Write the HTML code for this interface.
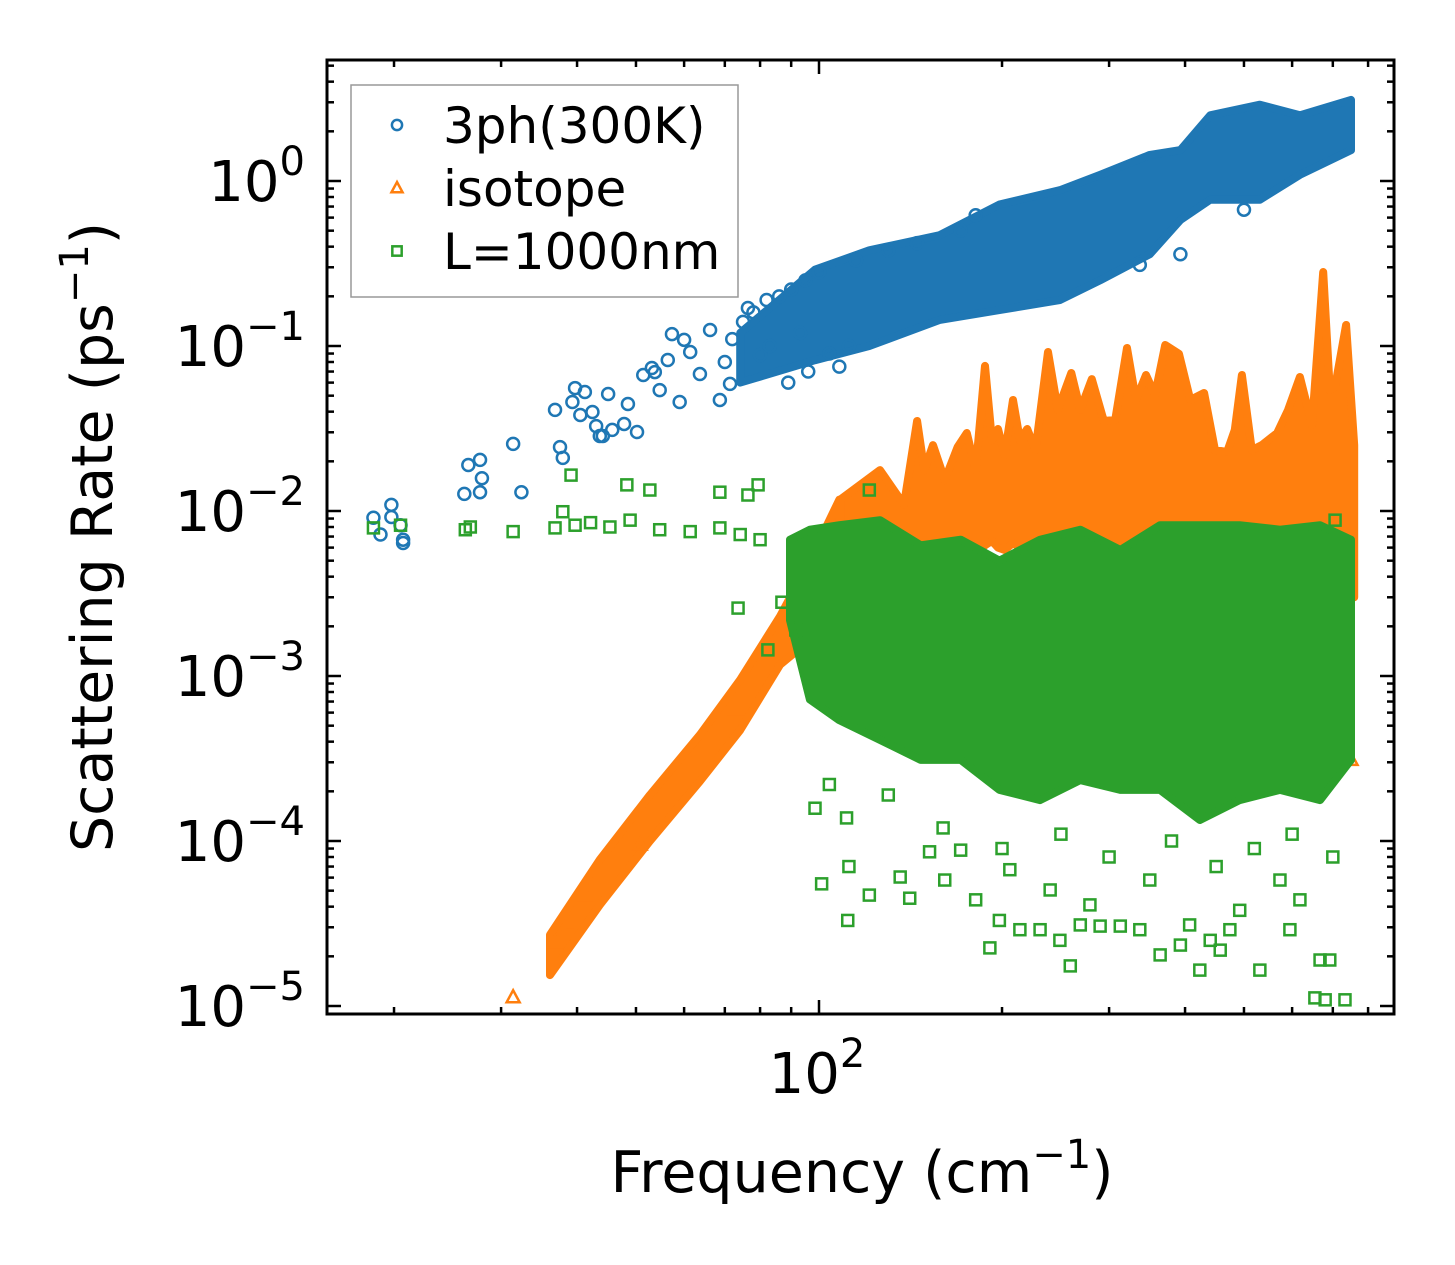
<!DOCTYPE html>
<html><head><meta charset="utf-8"><style>
html,body{margin:0;padding:0;background:#fff;width:1455px;height:1265px;overflow:hidden}
svg{display:block;font-family:"DejaVu Sans","Liberation Sans",sans-serif}
</style></head><body>
<svg id="chart" width="1455" height="1265" viewBox="0 0 1455 1265" xmlns="http://www.w3.org/2000/svg">
<rect width="1455" height="1265" fill="#fff"/>
<g id="marks"></g><g id="axes"></g>
</svg>
<script>
// ---- data ----
const blueFreq=[18.5,19.0,19.8,19.8,20.5,20.7,20.7,26.1,26.5,27.7,27.9,27.7,31.4,32.4,36.8,37.5,37.9,39.3,39.7,40.5,41.2,42.4,43.0,43.6,44.1,45.0,45.7,47.8,48.5,50.2,51.4,53.1,53.7,54.7,56.4,57.3,59.0,60.0,61.4,63.7,66.2,68.7,71.4,76.4,80.0,83.0,93.1,104,112,500,393,337,171,181,89,96,108,70,72,75,78,82,86,90,95,100,115,130,145];
const blueRate=[0.0091,0.0072,0.0109,0.0092,0.0082,0.0067,0.0064,0.0127,0.019,0.0204,0.0158,0.013,0.0255,0.013,0.041,0.0244,0.021,0.0458,0.0556,0.0382,0.0526,0.0398,0.0327,0.0285,0.0285,0.0512,0.031,0.0337,0.0445,0.0301,0.0667,0.0736,0.0695,0.054,0.0822,0.118,0.0458,0.109,0.092,0.0676,0.125,0.0471,0.0589,0.17,0.088,0.1,0.12,0.09,0.1,0.67,0.36,0.31,0.5,0.62,0.06,0.07,0.075,0.08,0.11,0.14,0.16,0.19,0.2,0.22,0.25,0.28,0.33,0.38,0.42];
const blueBandFreq=[74.2,98.5,121,158,198,249,290,350,393,440,531,618,750];
const blueBandLo=[0.06,0.082,0.10,0.144,0.165,0.19,0.25,0.36,0.58,0.77,0.77,1.09,1.54];
const blueBandHi=[0.12,0.29,0.38,0.47,0.72,0.88,1.09,1.44,1.54,2.5,2.9,2.5,3.1];

const orangeFreq=[31.4,36.8,38.9,41.2,43.6,50.8,63.7,72.8,750];
const orangeRate=[1.13e-5,2.44e-5,3.1e-5,4.7e-5,6.6e-5,9.5e-5,3.5e-4,6.3e-4,3.1e-4];
const orangeRampFreq=[36.1,43.6,52.7,63.7,74.2,86.3,96.6,108];
const orangeRampLo=[1.54e-5,4.1e-5,1.0e-4,2.3e-4,4.7e-4,1.17e-3,1.65e-3,1.9e-3];
const orangeRampHi=[2.7e-5,7.7e-5,1.9e-4,4.4e-4,9.5e-4,2.3e-3,5.0e-3,0.0117];
const orangeCloudFreq=[108.3,126,138,145,149,154,161,169,175,181,187.5,192.5,197,202,208.5,214,220,227,238,247,260,269,281,294,307,321,332,345,357,371,391,408,430,448,469,483,496,515,535,567,591,618,647,675,692,706,736,759];
const orangeCloudHi=[0.0117,0.0177,0.0109,0.0351,0.0177,0.0251,0.0154,0.0244,0.0297,0.0177,0.0757,0.0269,0.0314,0.0218,0.0471,0.0269,0.0314,0.0234,0.092,0.041,0.0686,0.041,0.063,0.0351,0.0356,0.0973,0.0471,0.0667,0.0505,0.1014,0.0895,0.0471,0.0519,0.0234,0.0228,0.031,0.0667,0.0234,0.0251,0.0297,0.041,0.0649,0.0332,0.281,0.054,0.0565,0.134,0.0251];
const orangeCloudLo=[1.9e-3,3.5e-3,5.0e-3,6.0e-3,6.5e-3,6.0e-3,6.2e-3,6.8e-3,6.0e-3,5.5e-3,6.2e-3,6.6e-3,6.0e-3,5.8e-3,6.4e-3,6.0e-3,5.6e-3,6.2e-3,6.0e-3,5.5e-3,5.8e-3,6.2e-3,6.0e-3,5.5e-3,5.2e-3,5.8e-3,6.0e-3,5.6e-3,5.4e-3,5.0e-3,5.5e-3,6.0e-3,6.2e-3,5.8e-3,6.0e-3,5.6e-3,6.0e-3,6.2e-3,6.4e-3,6.0e-3,5.8e-3,6.0e-3,6.6e-3,7.0e-3,6.0e-3,5.0e-3,4.0e-3,3.0e-3];

const greenFreq=[98.5,101,111,112,111.5,121,136,141,152,161,171,181,191,198,206,214,231,240,249,259,269,279,290,313,337,350,364,393,407,423,440,457,474,492,531,573,595,618,654,667,680,692,733,82.4,91.6,73.6,86.9,39.1,48.3,52.7,68.7,76.4,79.4,121,706,18.5,20.5,26.2,26.7,31.4,36.8,37.9,39.7,42.1,45.3,48.9,54.7,61.4,68.7,74.2,80.0,104,130,160,200,250,300,380,450,520,600,700];
const greenRate=[1.58e-4,5.5e-5,1.38e-4,7.0e-5,3.3e-5,4.7e-5,6.05e-5,4.5e-5,8.6e-5,5.8e-5,8.8e-5,4.4e-5,2.25e-5,3.3e-5,6.7e-5,2.9e-5,2.9e-5,5.05e-5,2.5e-5,1.75e-5,3.1e-5,4.1e-5,3.05e-5,3.05e-5,2.9e-5,5.8e-5,2.04e-5,2.34e-5,3.1e-5,1.65e-5,2.5e-5,2.18e-5,2.9e-5,3.8e-5,1.65e-5,5.8e-5,2.9e-5,4.4e-5,1.12e-5,1.9e-5,1.09e-5,1.9e-5,1.09e-5,1.44e-3,1.9e-3,2.58e-3,2.8e-3,0.0165,0.0144,0.0134,0.013,0.0125,0.0144,0.0134,0.0088,0.0079,0.0082,0.0077,0.0080,0.0075,0.0079,0.0099,0.0082,0.0085,0.0080,0.0088,0.0077,0.0075,0.0079,0.0072,0.0067,2.2e-4,1.9e-4,1.2e-4,9e-5,1.1e-4,8e-5,1.0e-4,7e-5,9e-5,1.1e-4,8e-5];
const greenBandFreq=[89.6,96.6,108,126,147,171,198,231,269,313,364,423,492,573,667,750];
const greenBandLo=[2.18e-3,7.2e-4,5.4e-4,4.1e-4,3.1e-4,3.1e-4,2.04e-4,1.77e-4,2.34e-4,2.04e-4,2.04e-4,1.34e-4,1.77e-4,2.04e-4,1.77e-4,3.1e-4];
const greenBandHi=[6.7e-3,7.7e-3,8.2e-3,8.8e-3,6.2e-3,6.7e-3,5.0e-3,6.7e-3,7.7e-3,5.8e-3,8.2e-3,8.2e-3,8.2e-3,7.7e-3,8.2e-3,6.7e-3];

const yTickExps=[0,-1,-2,-3,-4,-5];
const yTickLabels=["0","\u22121","\u22122","\u22123","\u22124","\u22125"];
const xMajor=[100];
const xMinor=[20,30,40,50,60,70,80,90,200,300,400,500,600,700,800];

// ---- scales ----
const L=327,R=1394,T=60,B=1014;
const X0=819, XD=608, Y0=181, YD=165;
function sx(f){return X0+XD*(Math.log10(f)-2);}
function sy(r){return Y0-YD*Math.log10(r);}
const NS="http://www.w3.org/2000/svg";
function mk(tag,attrs,parent){const e=document.createElementNS(NS,tag);for(const k in attrs)e.setAttribute(k,attrs[k]);parent.appendChild(e);return e;}
const marks=document.getElementById('marks'), axes=document.getElementById('axes');
const C={b:"#1f77b4",o:"#ff7f0e",g:"#2ca02c"};

function band(fr,lo,hi,col,name,parent){
  let pts=[];
  for(let i=0;i<fr.length;i++)pts.push(sx(fr[i]).toFixed(1)+","+sy(hi[i]).toFixed(1));
  for(let i=fr.length-1;i>=0;i--)pts.push(sx(fr[i]).toFixed(1)+","+sy(lo[i]).toFixed(1));
  const p=mk('polygon',{points:pts.join(" "),fill:col,stroke:col,'stroke-width':8,'stroke-linejoin':'round'},parent);
  
  
}
function marker(type,x,y,col,parent,s){
  s=s||1;let e;
  if(type==='c')e=mk('circle',{cx:x,cy:y,r:6*s,fill:'none',stroke:col,'stroke-width':2.5},parent);
  else if(type==='t')e=mk('polygon',{points:`${x},${y-7*s} ${x-6.5*s},${y+5*s} ${x+6.5*s},${y+5*s}`,fill:'none',stroke:col,'stroke-width':2.5},parent);
  else e=mk('rect',{x:x-5.5*s,y:y-5.5*s,width:11*s,height:11*s,fill:'none',stroke:col,'stroke-width':2.5},parent);
  return e;
}
// blue
const gb=mk('g',{},marks);
band(blueBandFreq,blueBandLo,blueBandHi,C.b,'3ph-dense-cloud',gb);
for(let i=0;i<blueFreq.length;i++){const m=marker('c',sx(blueFreq[i]),sy(blueRate[i]),C.b,gb);

}
// orange
const go=mk('g',{},marks);
band(orangeRampFreq,orangeRampLo,orangeRampHi,C.o,'isotope-low-freq-ramp',go);
band(orangeCloudFreq,orangeCloudLo,orangeCloudHi,C.o,'isotope-dense-cloud',go);
for(let i=0;i<orangeFreq.length;i++){const m=marker('t',sx(orangeFreq[i]),sy(orangeRate[i]),C.o,go);

}
// green
const gg=mk('g',{},marks);
band(greenBandFreq,greenBandLo,greenBandHi,C.g,'boundary-dense-cloud',gg);
for(let i=0;i<greenFreq.length;i++){const m=marker('s',sx(greenFreq[i]),sy(greenRate[i]),C.g,gg);

}

// ---- axes ----
const fr=mk('rect',{x:L,y:T,width:R-L,height:B-T,fill:'none',stroke:'#000','stroke-width':3},axes);

function tick(x1,y1,x2,y2){mk('line',{x1,y1,x2,y2,stroke:'#000','stroke-width':2.5},axes);}
yTickExps.forEach((e,i)=>{
  const y=Y0-YD*e;
  tick(L,y,L+14,y);tick(R,y,R-14,y);
  const t=mk('text',{x:305,y:y+20,'font-size':56,'text-anchor':'end',fill:'#000'},axes);
  
  t.innerHTML='10<tspan dy="-26" font-size="40">'+yTickLabels[i]+'</tspan>';
  for(let k=2;k<=9;k++){const yy=Y0-YD*(e+Math.log10(k));if(yy>T&&yy<B){tick(L,yy,L+7,yy);tick(R,yy,R-7,yy);}}
});
for(let k=2;k<=9;k++){const y2=Y0-YD*Math.log10(k)-YD;if(y2>T){tick(L,y2,L+7,y2);tick(R,y2,R-7,y2);}}
xMajor.forEach(f=>{const x=sx(f);tick(x,B,x,B-14);tick(x,T,x,T+14);
  const t=mk('text',{x:x-2,y:1093,'font-size':56,'text-anchor':'middle',fill:'#000'},axes);
  
  t.innerHTML='10<tspan dy="-26" font-size="40">2</tspan>';});
xMinor.forEach(f=>{const x=sx(f);tick(x,B,x,B-7);tick(x,T,x,T+7);});
const yl=mk('text',{x:0,y:0,'font-size':57,'text-anchor':'middle',fill:'#000',transform:'translate(112,537) rotate(-90)'},axes);

yl.innerHTML='Scattering Rate (ps<tspan dy="-24" font-size="40">\u22121</tspan><tspan dy="24">)</tspan>';
const xl=mk('text',{x:862,y:1192,'font-size':57,'text-anchor':'middle',fill:'#000'},axes);

xl.innerHTML='Frequency (cm<tspan dy="-24" font-size="40">\u22121</tspan><tspan dy="24">)</tspan>';

// ---- legend ----
const lg=mk('g',{},axes);
mk('rect',{x:351,y:85,width:387,height:212,fill:'#fff','fill-opacity':0.85,stroke:'#999','stroke-width':1.5},lg);
const ent=[['c',C.b,'3ph(300K)',125],['t',C.o,'isotope',188],['s',C.g,'L=1000nm',251]];
ent.forEach(e=>{
  const g=mk('g',{},lg);
  marker(e[0],397,e[3],e[1],g,0.85);
  const t=mk('text',{x:443,y:e[3]+18,'font-size':50,fill:'#000'},g);t.textContent=e[2];
});
</script>
</body></html>
